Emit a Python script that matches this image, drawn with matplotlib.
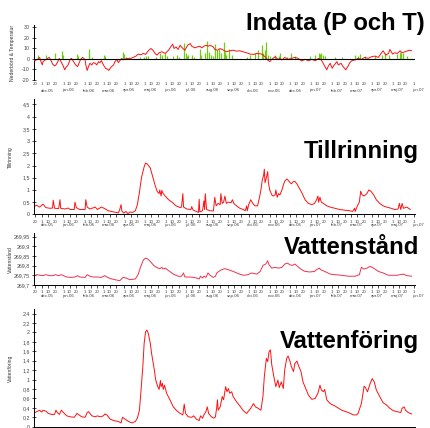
import numpy as np
import pandas as pd
import matplotlib
matplotlib.use("Agg")
import matplotlib.pyplot as plt
import matplotlib.dates as mdates
from matplotlib.ticker import FuncFormatter
from matplotlib.transforms import offset_copy

plt.rcParams["font.family"] = ["Liberation Sans", "DejaVu Sans"]

start = pd.Timestamp("2005-11-18")
last_day = 562
months_sv = ["jan", "feb", "mar", "apr", "maj", "jun", "jul", "aug", "sep", "okt", "nov", "dec"]

# Temperatur (dagar efter start, grader)
temp_day = [0, 2, 6, 9, 11, 13, 14, 17, 19, 23, 25, 28, 31, 33, 35, 38, 40, 43, 46, 48,
            51, 54, 56, 59, 62, 65, 67, 69, 72, 74, 76, 77, 79, 81, 83, 86, 88, 91, 93, 96,
            98, 100, 103, 106, 109, 111, 113, 115, 118, 120, 123, 125, 127, 130, 132, 135, 138, 142, 147, 151,
            154, 158, 162, 165, 169, 173, 176, 179, 182, 185, 189, 194, 199, 202, 205, 207, 210, 213, 216, 220,
            223, 227, 231, 233, 238, 241, 245, 248, 251, 254, 258, 260, 265, 267, 271, 275, 280, 284, 289, 294,
            299, 304, 309, 314, 319, 324, 329, 336, 341, 345, 348, 351, 356, 360, 363, 366, 370, 375, 380, 385,
            390, 395, 400, 405, 410, 415, 420, 424, 428, 432, 434, 437, 440, 443, 447, 449, 453, 456, 460, 463,
            466, 469, 474, 478, 483, 488, 493, 498, 503, 508, 512, 515, 519, 523, 525, 529, 532, 536, 540, 543,
            547, 551, 554, 557]
temp = [-1.2, -1.9, -0.6, 1.2, -2.8, -5.9, -2.8, -1.2, -0.6, 1.2, -0.6, -5.0, -6.9, -5.9, -3.8, 0.3, -2.2, -5.9, -10.6, -8.1,
        -5.9, -0.6, 0.3, -2.8, -5.9, -7.5, -4.4, -1.2, 1.2, 0.3, -1.2, -5.9, -11.2, -7.5, -4.4, -5.9, -3.8, -4.4, -5.9, -2.8,
        -3.8, -1.9, -5.9, -9.1, -10.0, -11.2, -9.1, -7.5, -5.9, -2.8, -0.6, -3.8, -1.9, 0.3, -1.2, -0.3, 0.3, 0.0, 1.2, 2.5,
        4.4, 3.8, 5.0, 4.1, 7.5, 9.7, 8.1, 5.0, 3.4, 5.6, 6.6, 5.0, 8.1, 11.2, 13.8, 9.7, 11.2, 8.8, 12.8, 9.7,
        8.1, 12.8, 14.4, 11.9, 10.3, 11.2, 11.9, 10.3, 11.9, 12.8, 11.9, 12.8, 11.2, 8.8, 8.1, 9.7, 8.1, 6.6, 7.5, 8.1,
        7.2, 7.5, 6.6, 5.6, 4.4, 4.1, 5.0, 4.4, 1.9, -1.2, -2.8, -0.6, 1.9, -0.6, 0.3, -1.2, 1.2, -0.6, 0.3, 1.2,
        0.3, -2.2, -0.6, -1.9, -0.6, -1.9, 0.3, -1.2, -5.9, -10.6, -7.5, -4.4, -9.1, -5.9, -2.8, -5.9, -4.4, -7.5, -10.6, -7.5,
        -3.8, -1.9, -1.2, 0.3, -0.6, 1.2, 0.3, 1.9, 2.5, 1.2, 5.0, 7.5, 3.4, 5.0, 8.8, 4.4, 5.6, 5.0, 7.5, 5.6,
        6.6, 7.5, 8.1, 7.5]

# Nederbörd (mm/dygn)
rain_day = [7, 18, 19, 32, 42, 44, 64, 65, 81, 82, 86, 104, 106, 132, 134, 136, 140, 157, 163, 166,
            168, 181, 186, 190, 193, 196, 206, 211, 215, 222, 224, 226, 228, 234, 236, 245, 247, 253, 256, 258,
            261, 265, 267, 270, 273, 276, 280, 282, 284, 288, 292, 314, 319, 326, 331, 336, 338, 341, 342, 345,
            348, 356, 361, 363, 373, 380, 385, 407, 415, 420, 422, 424, 427, 429, 444, 454, 474, 478, 481, 488,
            503, 513, 518, 523, 535, 540, 542, 545, 550]
rain = [3.1, 3.4, 1.9, 5.0, 7.5, 3.4, 4.4, 2.5, 8.8, 3.4, 1.9, 3.4, 2.5, 6.6, 4.4, 1.9, 1.2, 1.2, 1.9, 2.5,
        2.5, 1.9, 5.6, 3.4, 5.0, 2.5, 2.5, 3.4, 1.9, 15.0, 5.0, 2.5, 3.4, 3.4, 1.9, 9.7, 3.4, 5.0, 16.6, 6.6,
        3.4, 2.5, 14.4, 8.1, 9.7, 5.0, 15.9, 6.6, 3.4, 9.7, 3.4, 1.9, 3.4, 5.0, 8.1, 12.8, 5.0, 8.1, 15.9, 3.4,
        2.5, 3.4, 2.5, 5.0, 1.9, 5.0, 2.5, 2.5, 3.4, 5.0, 4.4, 5.6, 3.4, 2.5, 1.9, 1.9, 3.4, 2.5, 4.4, 2.5,
        2.5, 3.4, 5.0, 3.4, 4.4, 6.6, 5.0, 5.6, 2.5]

# Tillrinning
inflow_day = [0, 4, 9, 14, 18, 24, 28, 29, 31, 37, 39, 40, 46, 51, 54, 60, 61, 63, 68, 76,
              77, 79, 83, 91, 94, 100, 104, 110, 118, 125, 127, 129, 130, 133, 136, 139, 142, 146, 150, 153,
              156, 159, 163, 165, 168, 172, 176, 179, 182, 185, 186, 188, 189, 191, 194, 199, 204, 210, 216, 218,
              220, 221, 226, 232, 233, 235, 240, 243, 244, 245, 249, 251, 252, 253, 255, 260, 265, 267, 269, 272,
              275, 276, 278, 280, 282, 284, 287, 291, 293, 295, 299, 304, 309, 312, 314, 315, 317, 320, 323, 326,
              330, 333, 335, 337, 339, 340, 341, 343, 345, 346, 348, 351, 353, 356, 357, 359, 361, 363, 366, 368,
              370, 373, 375, 378, 380, 383, 385, 388, 391, 395, 400, 405, 410, 414, 417, 419, 420, 422, 424, 427,
              432, 437, 444, 451, 459, 466, 470, 473, 474, 477, 480, 482, 484, 487, 491, 494, 497, 501, 505, 510,
              515, 520, 527, 532, 537, 539, 541, 543, 545, 550, 555]
inflow = [0.29, 0.38, 0.30, 0.42, 0.28, 0.25, 0.26, 0.58, 0.25, 0.24, 0.60, 0.25, 0.22, 0.26, 0.20, 0.20, 0.50, 0.28, 0.20, 0.20,
          0.60, 0.30, 0.22, 0.30, 0.20, 0.30, 0.25, 0.15, 0.10, 0.06, 0.20, 0.40, 0.15, 0.05, 0.12, 0.03, 0.10, 0.08, 0.15, 0.40,
          0.90, 1.50, 1.95, 2.10, 2.05, 1.90, 1.50, 1.20, 0.95, 0.85, 1.00, 0.75, 0.98, 0.85, 0.75, 0.60, 0.50, 0.35, 0.28, 0.30,
          0.85, 0.30, 0.22, 0.20, 0.32, 0.18, 0.12, 0.08, 0.62, 0.10, 0.15, 0.55, 0.20, 0.85, 0.20, 0.15, 0.14, 0.70, 0.35, 0.45,
          0.40, 0.85, 0.45, 0.50, 0.75, 0.45, 0.50, 0.48, 0.60, 0.45, 0.35, 0.25, 0.20, 0.15, 0.35, 0.15, 0.40, 0.60, 0.45, 0.35,
          0.35, 0.70, 1.00, 1.40, 1.60, 1.85, 1.30, 1.50, 1.75, 1.30, 1.00, 0.80, 0.75, 0.80, 1.00, 0.70, 0.85, 0.80, 1.00, 1.20,
          1.35, 1.45, 1.40, 1.30, 1.25, 1.35, 1.35, 1.25, 1.10, 0.90, 0.60, 0.45, 0.40, 0.45, 0.60, 0.75, 0.50, 0.70, 0.50, 0.45,
          0.35, 0.30, 0.25, 0.20, 0.17, 0.15, 0.12, 0.25, 0.12, 0.35, 0.50, 0.95, 0.80, 0.75, 0.85, 1.00, 0.95, 0.80, 0.60, 0.45,
          0.35, 0.30, 0.25, 0.20, 0.22, 0.45, 0.20, 0.45, 0.25, 0.30, 0.20]

# Vattenstånd (m)
level_day = [0, 5, 10, 14, 18, 24, 29, 32, 37, 41, 44, 49, 56, 61, 65, 68, 76, 79, 83, 88,
             95, 100, 105, 108, 113, 120, 127, 132, 136, 142, 150, 154, 158, 162, 165, 168, 172, 177, 181, 186,
             189, 191, 194, 199, 206, 213, 218, 221, 223, 230, 236, 240, 244, 246, 249, 251, 254, 257, 260, 265,
             268, 270, 273, 277, 282, 287, 294, 302, 309, 316, 321, 329, 334, 338, 342, 345, 347, 351, 356, 361,
             366, 370, 374, 378, 381, 385, 389, 395, 400, 407, 414, 417, 421, 423, 429, 437, 444, 454, 464, 474,
             480, 483, 487, 491, 496, 501, 508, 515, 523, 530, 535, 540, 545, 550, 557]
level = [269.748, 269.753, 269.750, 269.748, 269.753, 269.748, 269.748, 269.753, 269.748, 269.753,
         269.748, 269.741, 269.739, 269.741, 269.748, 269.741, 269.739, 269.753, 269.745, 269.741,
         269.741, 269.739, 269.748, 269.741, 269.733, 269.727, 269.722, 269.739, 269.736, 269.727,
         269.731, 269.753, 269.796, 269.830, 269.839, 269.835, 269.822, 269.801, 269.791, 269.784,
         269.791, 269.782, 269.787, 269.774, 269.756, 269.745, 269.745, 269.762, 269.741, 269.741,
         269.739, 269.736, 269.731, 269.745, 269.736, 269.745, 269.739, 269.762, 269.750, 269.739,
         269.745, 269.762, 269.770, 269.779, 269.784, 269.779, 269.770, 269.758, 269.750, 269.753,
         269.762, 269.756, 269.770, 269.801, 269.808, 269.825, 269.804, 269.787, 269.791, 269.787,
         269.791, 269.808, 269.813, 269.804, 269.801, 269.808, 269.796, 269.779, 269.770, 269.767,
         269.770, 269.779, 269.787, 269.779, 269.770, 269.756, 269.753, 269.750, 269.745, 269.745,
         269.753, 269.791, 269.782, 269.787, 269.796, 269.787, 269.770, 269.762, 269.750, 269.750,
         269.750, 269.753, 269.756, 269.748, 269.745]

# Vattenföring
flow_day = [0, 2, 6, 9, 12, 14, 18, 22, 27, 31, 33, 35, 38, 41, 44, 49, 54, 60, 64, 67,
            71, 76, 79, 81, 82, 86, 91, 94, 98, 103, 105, 108, 113, 118, 125, 129, 131, 135, 140, 145,
            150, 153, 156, 158, 161, 163, 165, 167, 169, 172, 174, 178, 180, 183, 185, 187, 188, 190, 191, 193,
            196, 201, 206, 211, 216, 220, 222, 224, 228, 233, 236, 240, 244, 246, 249, 251, 254, 256, 258, 262,
            266, 268, 270, 271, 272, 275, 278, 280, 283, 285, 287, 289, 292, 294, 299, 304, 309, 314, 316, 320,
            324, 327, 331, 335, 338, 340, 343, 345, 347, 349, 351, 355, 357, 360, 362, 365, 368, 370, 373, 375,
            378, 380, 383, 385, 388, 390, 394, 397, 401, 405, 410, 415, 419, 422, 424, 427, 429, 432, 437, 444,
            454, 464, 471, 476, 478, 483, 487, 489, 492, 496, 499, 502, 505, 510, 515, 520, 525, 530, 535, 541,
            543, 546, 548, 552, 557]
flow = [0.30, 0.30, 0.33, 0.35, 0.31, 0.35, 0.33, 0.28, 0.26, 0.26, 0.35, 0.30, 0.26, 0.35, 0.30, 0.23, 0.21, 0.20, 0.28, 0.25,
        0.21, 0.20, 0.30, 0.32, 0.30, 0.23, 0.21, 0.23, 0.21, 0.23, 0.27, 0.25, 0.16, 0.13, 0.11, 0.08, 0.20, 0.16, 0.11, 0.08,
        0.11, 0.18, 0.35, 0.70, 1.27, 1.77, 2.01, 2.05, 1.98, 1.77, 1.55, 1.20, 0.99, 0.85, 0.79, 0.98, 0.85, 0.92, 0.79, 0.88,
        0.71, 0.57, 0.42, 0.34, 0.28, 0.25, 0.48, 0.28, 0.21, 0.20, 0.23, 0.16, 0.13, 0.23, 0.18, 0.25, 0.32, 0.42, 0.28, 0.21,
        0.18, 0.21, 0.42, 0.57, 0.35, 0.42, 0.64, 0.57, 0.85, 0.74, 0.81, 0.71, 0.74, 0.64, 0.53, 0.44, 0.34, 0.28, 0.32, 0.39,
        0.49, 0.42, 0.39, 0.35, 0.64, 1.06, 1.45, 1.38, 1.59, 1.63, 1.31, 0.99, 0.85, 0.99, 0.83, 0.95, 0.81, 1.20, 1.45, 1.50,
        1.38, 1.27, 1.17, 1.34, 1.39, 1.31, 1.17, 0.95, 0.81, 0.67, 0.58, 0.60, 0.71, 0.88, 0.78, 0.74, 0.79, 0.57, 0.49, 0.44,
        0.35, 0.30, 0.25, 0.25, 0.28, 0.49, 0.86, 0.83, 0.74, 0.92, 1.02, 0.95, 0.78, 0.64, 0.51, 0.46, 0.39, 0.34, 0.32, 0.30,
        0.39, 0.42, 0.35, 0.30, 0.27]


def to_dates(days):
    return start + pd.to_timedelta(days, unit="D")


W, H = 430, 428
fig = plt.figure(figsize=(W / 100, H / 100), dpi=100)


def add_panel(top, bottom):
    return fig.add_axes([34 / W, 1 - bottom / H, 381 / W, (bottom - top) / H])


def style_panel(ax, ylabel, yticks, ylabels, ylim, show_bottom=True, date_labels=True):
    for s in ("top", "right"):
        ax.spines[s].set_visible(False)
    ax.spines["left"].set_linewidth(0.7)
    ax.spines["bottom"].set_linewidth(0.7)
    ax.spines["bottom"].set_visible(show_bottom)
    ax.set_ylim(*ylim)
    ax.set_yticks(yticks)
    ax.set_yticklabels(ylabels)
    ax.tick_params(axis="y", direction="inout", length=3, width=0.5,
                   labelsize=3.8, pad=1.5, labelcolor="#444444")
    ax.set_ylabel(ylabel, fontsize=3.6, color="#333333")
    ax.yaxis.set_label_coords(-0.055, 0.5)

    ax.set_xlim(start + pd.Timedelta(days=0.7), start + pd.Timedelta(days=last_day))
    ax.xaxis.set_major_locator(mdates.DayLocator(bymonthday=[1, 10, 20]))
    ax.xaxis.set_major_formatter(FuncFormatter(lambda v, p: str(mdates.num2date(v).day)))
    ax.tick_params(axis="x", direction="out", length=2.5 if show_bottom else 0, width=0.5,
                   labelsize=3.2, pad=1.2, labelcolor="#444444", labelbottom=date_labels)

    if not date_labels:
        return
    month_tr = offset_copy(ax.get_xaxis_transform(), fig=fig, x=-1.5, y=-8.5, units="dots")
    for m in pd.date_range(start, start + pd.Timedelta(days=last_day), freq="MS"):
        ax.text(mdates.date2num(m), 0, f"{months_sv[m.month - 1]}.{m.strftime('%y')}",
                transform=month_tr, ha="left", va="top", fontsize=3.2, color="#444444")


ax1 = add_panel(25, 80)
ax2 = add_panel(99, 214.4)
ax3 = add_panel(233.3, 285.3)
ax4 = add_panel(309.3, 426.7)

# Indata: nederbörd som staplar, temperatur som linje
ax1.vlines(to_dates(rain_day), 0, rain, color="#70cc10", lw=0.9, zorder=2)
ax1.plot(to_dates(temp_day), temp, color="#ff1010", lw=0.7, zorder=3)
ax1.axhline(0, color="black", lw=0.8, zorder=4)
style_panel(ax1, "Nederbörd & Temperatur", [30, 20, 10, 0, -10, -20],
            ["30", "20", "10", "0", "-10", "-20"], (-20.3, 32.1), show_bottom=False)
ax1.yaxis.set_label_coords(-0.05, 0.5)

ax2.plot(to_dates(inflow_day), inflow, color="#ff1010", lw=0.7)
t2 = [0, 0.5, 1, 1.5, 2, 2.5, 3, 3.5, 4, 4.5]
style_panel(ax2, "Tillrinning", t2, [f"{v:g}".replace(".", ",") for v in t2], (0, 4.72))

ax3.plot(to_dates(level_day), level, color="#f03050", lw=0.7)
t3 = [269.7, 269.75, 269.8, 269.85, 269.9, 269.95]
style_panel(ax3, "Vattenstånd", t3, [f"{v:g}".replace(".", ",") for v in t3], (269.698, 269.9675))

# datumtexten hamnar under bildens nederkant, bara tickmarkeringarna syns
ax4.plot(to_dates(flow_day), flow, color="#ff1010", lw=0.7)
t4 = [0, 0.2, 0.4, 0.6, 0.8, 1, 1.2, 1.4, 1.6, 1.8, 2, 2.2, 2.4]
style_panel(ax4, "Vattenföring", t4, [f"{v:g}".replace(".", ",") for v in t4], (0, 2.49),
            date_labels=False)

title_kw = dict(ha="right", va="baseline", fontsize=17.2, fontweight="bold", color="black")
fig.text(425 / W, 1 - 30 / H, "Indata (P och T)", **title_kw)
fig.text(419 / W, 1 - 158.3 / H, "Tillrinning", **title_kw)
fig.text(419 / W, 1 - 254.3 / H, "Vattenstånd", **title_kw)
fig.text(419 / W, 1 - 348.3 / H, "Vattenföring", **title_kw)

fig.savefig("out.png", dpi=100)
